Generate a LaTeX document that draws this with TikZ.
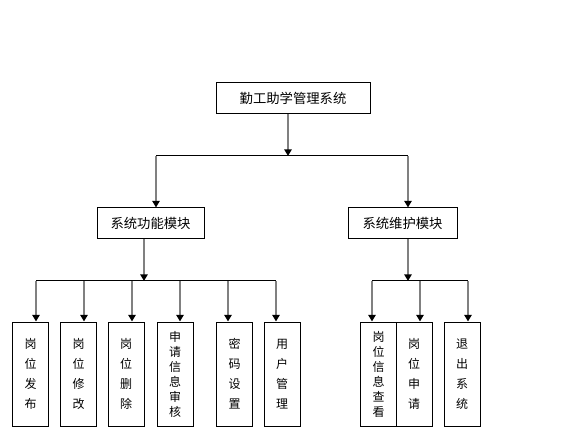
\documentclass[tikz,border=0pt]{standalone}
\usepackage{fontspec}
\setmainfont{Noto Sans CJK SC}
\usetikzlibrary{arrows.meta}
\tikzset{every picture/.style={line width=0.75pt}}
\tikzset{
modbox/.style={draw, inner sep=0pt, minimum height=23.25pt, font=\fontsize{10}{12}\selectfont},
leafbox/.style={draw, inner sep=0pt, minimum width=27pt, minimum height=78pt, align=center, font=\fontsize{9}{15}\selectfont},
tightbox/.style={leafbox, font=\fontsize{9}{11.25}\selectfont},
link/.style={draw={rgb, 255:red, 128; green, 128; blue, 128}, line width=1.5pt, -{Triangle[length=5pt, width=5.5pt, color=black]}},
busline/.style={draw=black}
}

\begin{document}
\begin{tikzpicture}[x=0.75pt,y=0.75pt,yscale=-1,xscale=1]
\useasboundingbox (0,0) rectangle (588,427);

%Shape: Rectangle
\node[modbox, minimum width=115.5pt] (root) at (293,98) {勤工助学管理系统};
%Shape: Rectangle
\node[modbox, minimum width=80.25pt] (funcmod) at (150.5,223.5) {系统功能模块};
%Shape: Rectangle
\node[modbox, minimum width=81.75pt] (maintmod) at (402.5,223.5) {系统维护模块};

%Shape: Rectangle
\node[leafbox] (pubpost) at (30.5,374) {岗\\位\\发\\布};
\node[leafbox] (editpost) at (78.5,374) {岗\\位\\修\\改};
\node[leafbox] (delpost) at (126,374) {岗\\位\\删\\除};
\node[tightbox] (review) at (175,374) {申\\请\\信\\息\\审\\核};
\node[leafbox] (pwdset) at (234.5,374) {密\\码\\设\\置};
\node[leafbox] (usermgr) at (282,374) {用\\户\\管\\理};
\node[tightbox] (viewpost) at (378.5,374) {岗\\位\\信\\息\\查\\看};
\node[leafbox] (applypost) at (414,374) {岗\\位\\申\\请};
\node[leafbox] (quitsys) at (462,374) {退\\出\\系\\统};

%Straight Lines
\coordinate (top) at (288,156);
\coordinate (topl) at (156,156);
\coordinate (topr) at (408,156);
\draw[link] (root.south -| top) -- (top);
\draw[busline] (topl) -- (topr);
\draw[link] (topl) -- (topl |- funcmod.north);
\draw[link] (topr) -- (topr |- maintmod.north);

%Straight Lines
\coordinate (fbus) at (144,281);
\coordinate (f1) at (36,281);
\coordinate (f2) at (84,281);
\coordinate (f3) at (132,281);
\coordinate (f4) at (180,281);
\coordinate (f5) at (228,281);
\coordinate (f6) at (276,281);
\draw[link] (funcmod.south -| fbus) -- (fbus);
\draw[busline] (f1) -- (f6);
\draw[link] (f1) -- (f1 |- pubpost.north);
\draw[link] (f2) -- (f2 |- editpost.north);
\draw[link] (f3) -- (f3 |- delpost.north);
\draw[link] (f4) -- (f4 |- review.north);
\draw[link] (f5) -- (f5 |- pwdset.north);
\draw[link] (f6) -- (f6 |- usermgr.north);

%Straight Lines
\coordinate (mbus) at (408,281);
\coordinate (m1) at (372,281);
\coordinate (m2) at (420,281);
\coordinate (m3) at (468,281);
\draw[link] (maintmod.south -| mbus) -- (mbus);
\draw[busline] (m1) -- (m3);
\draw[link] (m1) -- (m1 |- viewpost.north);
\draw[link] (m2) -- (m2 |- applypost.north);
\draw[link] (m3) -- (m3 |- quitsys.north);

\end{tikzpicture}
\end{document}
